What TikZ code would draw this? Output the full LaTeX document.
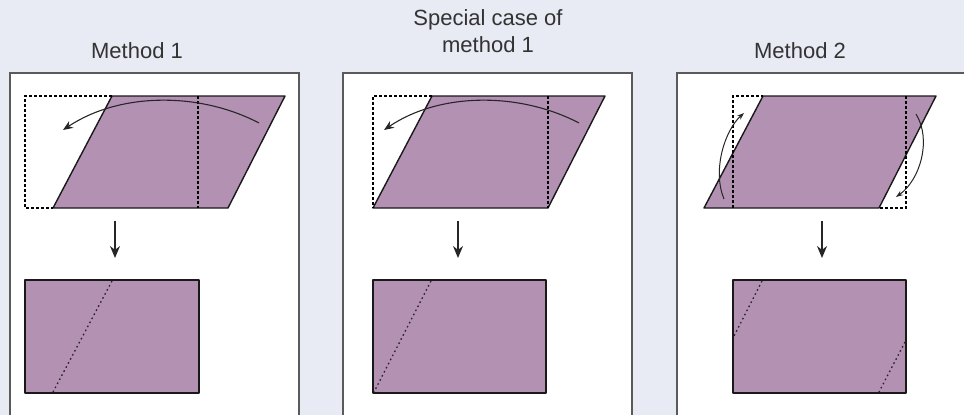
\documentclass[tikz,border=0pt]{standalone}
\usepackage{fontspec}
\setmainfont{Liberation Sans}
\usepackage{tikz}
\usetikzlibrary{arrows.meta,positioning,calc}
\definecolor{FoldPurple}{HTML}{B391B3}
\definecolor{PanelBg}{HTML}{E8EAF4}
\definecolor{PanelLine}{HTML}{5A5A5A}
\definecolor{LabelGray}{HTML}{333333}

\begin{document}
\begin{tikzpicture}[x=1pt,y=-1pt,font=\fontsize{22}{27}\selectfont,
  sheet/.style={fill=FoldPurple,draw=black!90,line width=1.4pt,line join=round},
  guide/.style={black,line width=1.1pt,dash pattern=on 3pt off 2pt},
  crease/.style={black!85,line width=1.3pt,dash pattern=on 1.6pt off 3pt},
  turn/.style={black!85,line width=1.1pt,-{Stealth[length=10pt,width=8pt]}},
  flip/.style={black!85,line width=1pt,-{Stealth[length=7pt,width=5pt]}},
  down/.style={black!85,line width=1.2pt,-{Stealth[length=12pt,width=10pt]}},
  title/.style={text=LabelGray,anchor=base,align=center}]
  \useasboundingbox (0,0) rectangle (964,415);
  \fill[PanelBg] (0,0) rectangle (964,415);
  \foreach \l/\r in {10/299,343/632,677/980} {
    \fill[white] (\l,73) rectangle (\r,420);
    \draw[PanelLine,line width=1.4pt] (\l,420) |- (\r,73) -- (\r,420);
  }
  \node[title] (title1) at (137,58) {Method 1};
  \node[title] (title2) at (488,52) {Special case of\\method 1};
  \node[title] (title3) at (800,58) {Method 2};
  % method 1
  \draw[sheet] (53,208) -- (228,208) -- (285,96) -- (112,96) -- cycle;
  \draw[guide] (112,96) -| (25,208) -- (53,208);
  \draw[guide] (198,96) -- (198,208);
  \draw[turn] (259,123) .. controls (200,92) and (120,92) .. (63,130);
  \coordinate (d1a) at (115,221);
  \coordinate (d1b) at (115,258);
  \draw[down] (d1a) -- (d1b);
  \draw[sheet] (25,280) rectangle (199,393);
  \draw[crease] (112,281) -- (53,392);
  % special case
  \draw[sheet] (373,208) -- (548,208) -- (605,96) -- (432,96) -- cycle;
  \draw[guide] (432,96) -| (373,208);
  \draw[guide] (548,96) -- (548,208);
  \draw[turn] (579,123) .. controls (520,92) and (440,92) .. (384,130);
  \coordinate (d2a) at (458,221);
  \coordinate (d2b) at (458,258);
  \draw[down] (d2a) -- (d2b);
  \draw[sheet] (373,280) rectangle (546,393);
  \draw[crease] (431,281) -- (374,392);
  % method 2
  \draw[sheet] (704,208) -- (879,208) -- (936,96) -- (763,96) -- cycle;
  \draw[guide] (733,208) |- (763,96);
  \draw[guide] (906,96) |- (879,208);
  \draw[flip] (724,199) .. controls (712,170) and (725,130) .. (744,113);
  \draw[flip] (916,114) .. controls (932,140) and (920,180) .. (896,197);
  \coordinate (d3a) at (822,221);
  \coordinate (d3b) at (822,258);
  \draw[down] (d3a) -- (d3b);
  \draw[sheet] (733,280) rectangle (906,393);
  \draw[crease] (762,281) -- (734,336);
  \draw[crease] (905,342) -- (879,392);
\end{tikzpicture}
\end{document}
